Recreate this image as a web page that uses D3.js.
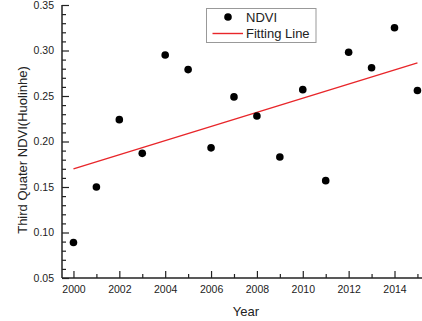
<!DOCTYPE html>
<html>
<head>
<meta charset="utf-8">
<script src="https://cdn.jsdelivr.net/npm/d3@7"></script>
<style>
  html, body { margin: 0; padding: 0; background: #fff; }
  svg { display: block; font-family: "Liberation Sans", Arial, sans-serif; }
</style>
</head>
<body>
<svg id="chart" width="422" height="321"></svg>
<script>
// Third-quarter NDVI, Huolinhe, 2000–2015
const years = [2000, 2001, 2002, 2003, 2004, 2005, 2006, 2007,
               2008, 2009, 2010, 2011, 2012, 2013, 2014, 2015];
const ndvi = [0.089, 0.150, 0.224, 0.187, 0.295, 0.279, 0.193, 0.249,
              0.228, 0.183, 0.257, 0.157, 0.298, 0.281, 0.325, 0.256];
const yTickLabels = ["0.05", "0.10", "0.15", "0.20", "0.25", "0.30", "0.35"];
const xTickLabels = ["2000", "2002", "2004", "2006", "2008", "2010", "2012", "2014"];

const svg = d3.select("#chart");
const plotLeft = 62, plotRight = 428.9, plotTop = 5, plotBottom = 278;

const x = d3.scaleLinear().domain([1999.5, 2015.5]).range([plotLeft, plotRight]);
const y = d3.scaleLinear().domain([0.05, 0.35]).range([plotBottom, plotTop]);

const ink = "#222";
const tickFont = 10.5;

// Least-squares trend line
const mx = d3.mean(years), my = d3.mean(ndvi);
const slope = d3.sum(years, (yr, i) => (yr - mx) * (ndvi[i] - my)) /
              d3.sum(years, yr => (yr - mx) * (yr - mx));
const fit = yr => my + slope * (yr - mx);

// Y axis: major ticks with labels, minor every 0.01 (ticks drawn inward)
const yMajor = yTickLabels.map(Number);
const yMinor = d3.range(5, 36).map(v => v / 100).filter(v => !yMajor.some(m => Math.abs(m - v) < 1e-9));

const yAxis = svg.append("g").attr("transform", `translate(${plotLeft},0)`);
yAxis.append("g")
  .call(d3.axisLeft(y).tickValues(yMajor).tickSize(-7).tickPadding(8)
        .tickFormat((d, i) => yTickLabels[i]))
  .call(g => g.select(".domain").remove());
yAxis.append("g")
  .call(d3.axisLeft(y).tickValues(yMinor).tickSize(-4).tickFormat(""))
  .call(g => g.select(".domain").remove());
yAxis.selectAll("line").attr("stroke", ink).attr("stroke-width", 1.2);
yAxis.selectAll("text").attr("fill", ink).attr("font-size", tickFont)
  .attr("font-family", "Liberation Sans, Arial, sans-serif");

// X axis: labelled even years, minor odd years
const xMajor = xTickLabels.map(Number);
const xMinor = years.filter(yr => !xMajor.includes(yr));
const xAxis = svg.append("g").attr("transform", `translate(0,${plotBottom})`);
xAxis.append("g")
  .call(d3.axisBottom(x).tickValues(xMajor).tickSize(-7).tickPadding(8)
        .tickFormat((d, i) => xTickLabels[i]))
  .call(g => g.select(".domain").remove());
xAxis.append("g")
  .call(d3.axisBottom(x).tickValues(xMinor).tickSize(-4).tickFormat(""))
  .call(g => g.select(".domain").remove());
xAxis.selectAll("line").attr("stroke", ink).attr("stroke-width", 1.2);
xAxis.selectAll("text").attr("fill", ink).attr("font-size", tickFont)
  .attr("font-family", "Liberation Sans, Arial, sans-serif");

// Axis spines
svg.append("line").attr("x1", plotLeft).attr("x2", plotLeft).attr("y1", plotTop).attr("y2", plotBottom)
  .attr("stroke", ink).attr("stroke-width", 1.5);
svg.append("line").attr("x1", plotLeft).attr("x2", plotRight).attr("y1", plotBottom).attr("y2", plotBottom)
  .attr("stroke", ink).attr("stroke-width", 1.5);

// Fitting line
svg.append("line")
  .attr("x1", x(years[0])).attr("y1", y(fit(years[0])))
  .attr("x2", x(years[years.length - 1])).attr("y2", y(fit(years[years.length - 1])))
  .attr("stroke", "#e8262a").attr("stroke-width", 1.4);

// Data points
svg.append("g").selectAll("circle")
  .data(years)
  .join("circle")
  .attr("cx", d => x(d))
  .attr("cy", (d, i) => y(ndvi[i]))
  .attr("r", 3.8)
  .attr("fill", "#000");

// Axis titles
svg.append("text")
  .attr("x", 246).attr("y", 316)
  .attr("text-anchor", "middle")
  .attr("font-size", 13).attr("fill", ink)
  .text("Year");
svg.append("text")
  .attr("transform", "translate(27,150) rotate(-90)")
  .attr("text-anchor", "middle")
  .attr("font-size", 13).attr("fill", ink)
  .text("Third Quater NDVI(Huolinhe)");

// Legend
const lg = svg.append("g");
lg.append("rect")
  .attr("x", 206.5).attr("y", 8.5).attr("width", 109.5).attr("height", 34)
  .attr("fill", "#fff").attr("stroke", "#999").attr("stroke-width", 1);
lg.append("circle").attr("cx", 228).attr("cy", 17).attr("r", 3.8).attr("fill", "#000");
lg.append("text").attr("x", 246).attr("y", 21.5).attr("font-size", 13).attr("fill", ink).text("NDVI");
lg.append("line").attr("x1", 212.5).attr("x2", 243).attr("y1", 33.5).attr("y2", 33.5)
  .attr("stroke", "#e8262a").attr("stroke-width", 1.4);
lg.append("text").attr("x", 246).attr("y", 38).attr("font-size", 13).attr("fill", ink).text("Fitting Line");
</script>
</body>
</html>
